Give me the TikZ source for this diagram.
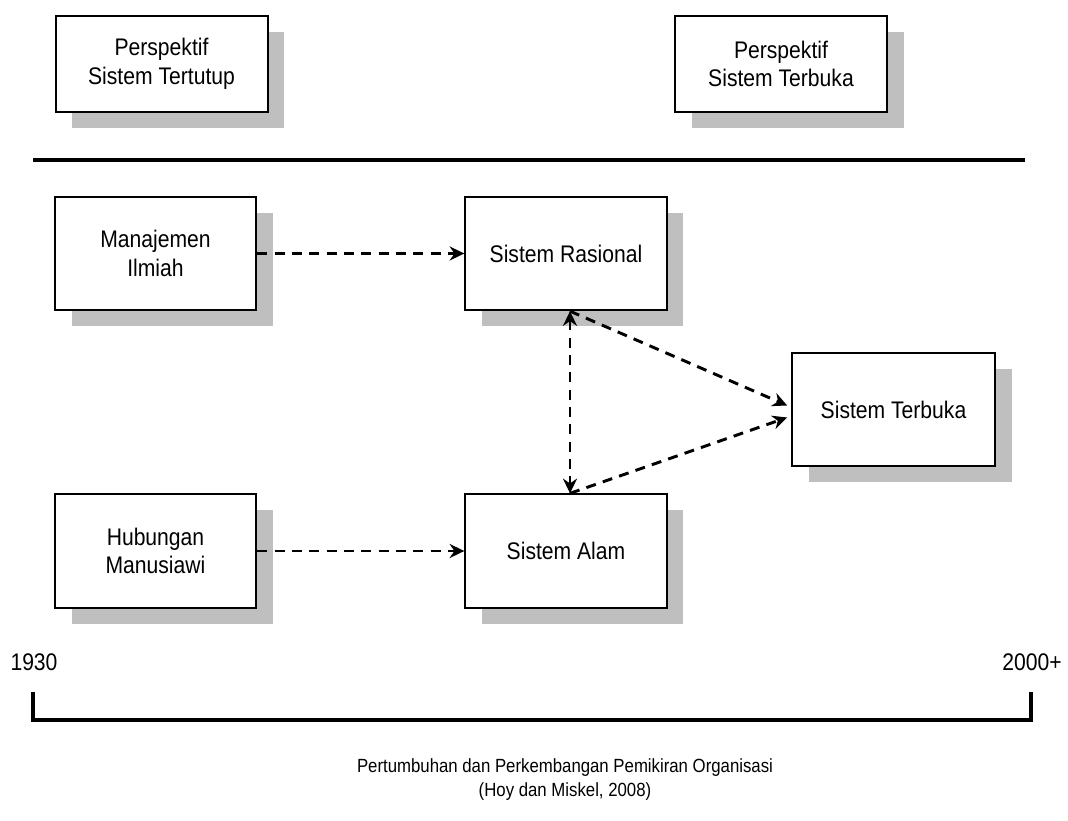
\documentclass[tikz,border=0pt]{standalone}
\usepackage{fontspec}
\setmainfont[FakeStretch=0.88]{Liberation Sans}
\usetikzlibrary{arrows.meta,shadows}

\begin{document}
\begin{tikzpicture}[x=0.75pt, y=-0.75pt,
   every node/.style={font=\fontsize{18pt}{21.5pt}\selectfont, align=center},
   box/.style={draw, line width=1.5pt, fill=white, inner sep=0pt,
               minimum width=151pt, minimum height=85pt,
               drop shadow={shadow xshift=12.5pt, shadow yshift=-12pt, fill=black!25, opacity=1}},
   topbox/.style={box, minimum width=159pt, minimum height=72pt},
   flow/.style={line width=2.2pt, dash pattern=on 7.5pt off 5.5pt, -{Stealth[length=11pt, width=10.5pt]}},
   bothflow/.style={flow, {Stealth[length=11pt, width=10.5pt]}-{Stealth[length=11pt, width=10.5pt]}},
   rule/.style={line width=3pt}]

\useasboundingbox (0,0) rectangle (1068,821);

% perspektif
\node[topbox] (tertutup) at (161.5,64) {Perspektif\\Sistem Tertutup};
\node[topbox] (terbukaP) at (781,64) {Perspektif\\Sistem Terbuka};

\coordinate (garisA) at (33,160);
\coordinate (garisB) at (1025,160);
\draw[rule] (garisA) -- (garisB);

% aliran pemikiran
\node[box] (manajemen) at (155.5,253.5) {Manajemen\\Ilmiah};
\node[box] (rasional) at (566,253.5) {Sistem Rasional};
\node[box, minimum width=152pt] (terbuka) at (893.5,409.5) {Sistem Terbuka};
\node[box] (hubungan) at (155.5,551) {Hubungan\\Manusiawi};
\node[box] (alam) at (566,551) {Sistem Alam};

\draw[flow] (manajemen) -- (rasional);
\draw[flow] (hubungan) -- (alam);
\draw[bothflow] ([xshift=3pt]rasional.south) -- ([xshift=3pt]alam.north);
\draw[flow] ([xshift=3pt]rasional.south) -- ([yshift=3pt,xshift=-3pt]terbuka.west);
\draw[flow] ([xshift=3pt]alam.north) -- ([yshift=-6pt,xshift=-3pt]terbuka.west);

% garis waktu
\node (awal) at (34,662) {1930};
\node (akhir) at (1032,662) {2000+};
\coordinate (kiri) at (33,692);
\coordinate (kanan) at (1031,692);
\draw[rule] (kiri) -- ++(0,28) -| (kanan);

\node[font=\fontsize{14.3pt}{18pt}\selectfont] (judul) at (565,780)
   {Pertumbuhan dan Perkembangan Pemikiran Organisasi\\(Hoy dan Miskel, 2008)};

\end{tikzpicture}
\end{document}
